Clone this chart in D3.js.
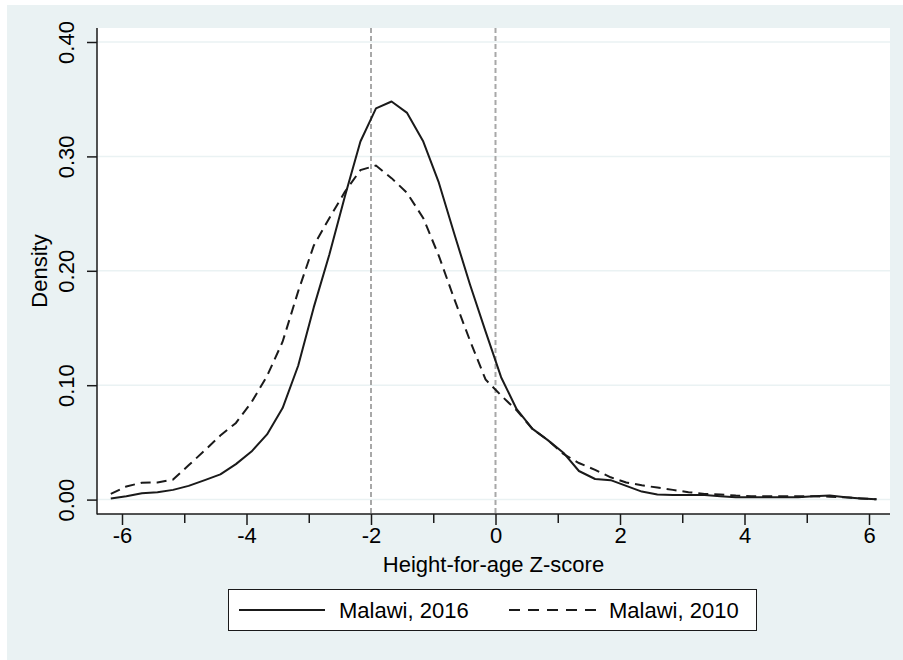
<!DOCTYPE html>
<html>
<head>
<meta charset="utf-8">
<script src="https://cdn.jsdelivr.net/npm/d3@7"></script>
<style>
  html, body { margin: 0; padding: 0; background: #eaf2f3; overflow: hidden; }
  svg { display: block; }
  svg text { font-family: "Liberation Sans", Arial, sans-serif; fill: #000; }
</style>
</head>
<body>
<div id="chart"></div>
<script>
// evaluation points of the kernel density (z-score)
var zPoints = [-6.18, -5.93, -5.68, -5.43, -5.18, -4.93, -4.67, -4.42, -4.17, -3.92,
               -3.67, -3.42, -3.17, -2.92, -2.67, -2.42, -2.17, -1.92, -1.67, -1.42,
               -1.16, -0.91, -0.66, -0.41, -0.16, 0.09, 0.34, 0.59, 0.84, 1.09,
               1.34, 1.60, 1.85, 2.10, 2.35, 2.60, 2.85, 3.10, 3.36, 3.61,
               3.86, 4.11, 4.36, 4.61, 4.86, 5.11, 5.37, 5.62, 5.87, 6.12];

var malawi2016 = [0.001, 0.003, 0.0055, 0.0065, 0.0085, 0.012, 0.017, 0.022, 0.031, 0.042,
                  0.057, 0.080, 0.117, 0.168, 0.214, 0.265, 0.313, 0.342, 0.348, 0.338,
                  0.313, 0.277, 0.232, 0.188, 0.147, 0.107, 0.079, 0.062, 0.052, 0.041,
                  0.025, 0.018, 0.017, 0.012, 0.007, 0.0045, 0.004, 0.004, 0.004, 0.003,
                  0.002, 0.002, 0.002, 0.002, 0.002, 0.003, 0.0035, 0.002, 0.001, 0.0003];

var malawi2010 = [0.005, 0.0115, 0.0148, 0.015, 0.0175, 0.030, 0.043, 0.056, 0.067, 0.085,
                  0.108, 0.138, 0.182, 0.222, 0.246, 0.269, 0.288, 0.292, 0.281, 0.268,
                  0.246, 0.213, 0.175, 0.139, 0.105, 0.091, 0.078, 0.062, 0.052, 0.040,
                  0.032, 0.026, 0.0195, 0.015, 0.0125, 0.0105, 0.0085, 0.0065, 0.005, 0.0045,
                  0.0035, 0.003, 0.003, 0.003, 0.003, 0.003, 0.0025, 0.002, 0.001, 0.0003];

var xMajorTicks = [-6, -4, -2, 0, 2, 4, 6];
var xMinorTicks = [-5, -3, -1, 1, 3, 5];
var yTicks = [0, 0.1, 0.2, 0.3, 0.4];
var refLines = [-2, 0];
var seriesNames = ["Malawi, 2016", "Malawi, 2010"];

var W = 903, H = 660;
var plot = {left: 97, right: 890, top: 28, bottom: 514};
var bg = "#eaf2f3", ink = "#1a1a1a";
var fs = 22;

var svg = d3.select("#chart").append("svg")
    .attr("width", W).attr("height", H);

// graph region with the thin white margin at top and left
svg.append("rect").attr("x", 0).attr("y", 0)
    .attr("width", W).attr("height", H).attr("fill", bg);
svg.append("rect").attr("x", 0).attr("y", 0)
    .attr("width", W).attr("height", 5).attr("fill", "#fff");
svg.append("rect").attr("x", 0).attr("y", 0)
    .attr("width", 7).attr("height", H).attr("fill", "#fff");

// plot region
svg.append("rect").attr("x", plot.left).attr("y", plot.top)
    .attr("width", plot.right - plot.left).attr("height", plot.bottom - plot.top)
    .attr("fill", "#fff");

var x = d3.scaleLinear().domain([-6, 6]).range([122, 869]);
var y = d3.scaleLinear().domain([0, 0.4]).range([499.6, 42]);

// y grid
svg.append("g").selectAll("line").data(yTicks).enter().append("line")
    .attr("x1", plot.left).attr("x2", plot.right)
    .attr("y1", function(d) { return y(d); }).attr("y2", function(d) { return y(d); })
    .attr("stroke", bg).attr("stroke-width", 1.5);

// reference lines at -2 and 0
svg.append("g").selectAll("line").data(refLines).enter().append("line")
    .attr("x1", function(d) { return x(d); }).attr("x2", function(d) { return x(d); })
    .attr("y1", plot.top).attr("y2", plot.bottom)
    .attr("stroke", "#a8a8a8").attr("stroke-width", 2)
    .attr("stroke-dasharray", "5,3");

// curves
var line = d3.line()
    .x(function(d) { return x(d[0]); })
    .y(function(d) { return y(d[1]); });

svg.append("path")
    .datum(zPoints.map(function(z, i) { return [z, malawi2016[i]]; }))
    .attr("d", line).attr("fill", "none")
    .attr("stroke", ink).attr("stroke-width", 2).attr("stroke-linejoin", "round");

svg.append("path")
    .datum(zPoints.map(function(z, i) { return [z, malawi2010[i]]; }))
    .attr("d", line).attr("fill", "none")
    .attr("stroke", ink).attr("stroke-width", 2)
    .attr("stroke-dasharray", "10,6");

// axes lines
svg.append("line").attr("x1", plot.left).attr("x2", plot.left)
    .attr("y1", plot.top).attr("y2", plot.bottom + 0.5)
    .attr("stroke", ink).attr("stroke-width", 1.5);
svg.append("line").attr("x1", plot.left).attr("x2", plot.right)
    .attr("y1", plot.bottom).attr("y2", plot.bottom)
    .attr("stroke", ink).attr("stroke-width", 1.5);

// x axis
var xAxis = d3.axisBottom(x).tickValues(xMajorTicks).tickSize(11).tickPadding(2)
    .tickFormat(function(d) { return d < 0 ? "-" + Math.abs(d) : d; });
var gx = svg.append("g").attr("transform", "translate(0," + plot.bottom + ")").call(xAxis);
gx.select(".domain").remove();
gx.selectAll(".tick line").attr("stroke", ink).attr("stroke-width", 1.5);
gx.selectAll(".tick text").attr("font-size", fs).attr("dy", "0.71em")
    .style("font-family", "'Liberation Sans', Arial, sans-serif").attr("fill", "#000");

var gxm = svg.append("g").attr("transform", "translate(0," + plot.bottom + ")")
    .call(d3.axisBottom(x).tickValues(xMinorTicks).tickSize(9).tickFormat(""));
gxm.select(".domain").remove();
gxm.selectAll(".tick line").attr("stroke", ink).attr("stroke-width", 1.5);

// y axis
var yAxis = d3.axisLeft(y).tickValues(yTicks).tickSize(10).tickFormat(d3.format(".2f"));
var gy = svg.append("g").attr("transform", "translate(" + plot.left + ",0)").call(yAxis);
gy.select(".domain").remove();
gy.selectAll(".tick line").attr("stroke", ink).attr("stroke-width", 1.5);
gy.selectAll(".tick text")
    .attr("x", null).attr("dy", null)
    .attr("transform", "translate(-23,0) rotate(-90)")
    .attr("text-anchor", "middle")
    .attr("font-size", fs)
    .style("font-family", "'Liberation Sans', Arial, sans-serif").attr("fill", "#000");

// axis titles
svg.append("text")
    .attr("transform", "translate(47," + ((plot.top + plot.bottom) / 2) + ") rotate(-90)")
    .attr("text-anchor", "middle").attr("font-size", fs).text("Density");
svg.append("text")
    .attr("x", (plot.left + plot.right) / 2).attr("y", 572)
    .attr("text-anchor", "middle").attr("font-size", fs).text("Height-for-age Z-score");

// legend
var lg = svg.append("g");
lg.append("rect").attr("x", 228.5).attr("y", 589.5).attr("width", 528).attr("height", 41)
    .attr("fill", "#fff").attr("stroke", ink).attr("stroke-width", 1);
lg.append("line").attr("x1", 239).attr("x2", 325).attr("y1", 610).attr("y2", 610)
    .attr("stroke", ink).attr("stroke-width", 2);
lg.append("text").attr("x", 339).attr("y", 618).attr("font-size", fs).text(seriesNames[0]);
lg.append("line").attr("x1", 509).attr("x2", 596).attr("y1", 610).attr("y2", 610)
    .attr("stroke", ink).attr("stroke-width", 2).attr("stroke-dasharray", "11,8");
lg.append("text").attr("x", 609).attr("y", 618).attr("font-size", fs).text(seriesNames[1]);
</script>
</body>
</html>
